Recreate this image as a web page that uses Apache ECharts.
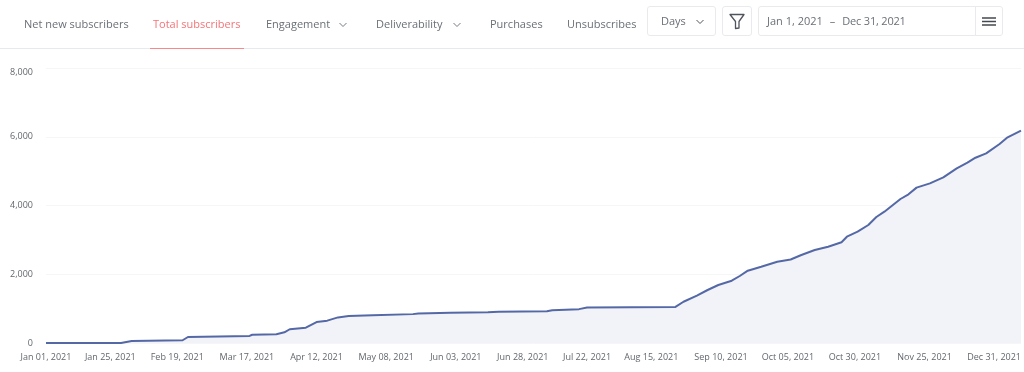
<!DOCTYPE html>
<html>
<head>
<meta charset="utf-8">
<script src="https://cdn.jsdelivr.net/npm/echarts@6/dist/echarts.min.js"></script>
<style>
  html, body { margin: 0; padding: 0; background: #fff; }
  body { position: relative; width: 1024px; height: 372px; overflow: hidden; font-family: "Open Sans", sans-serif; }
  #chart { position: absolute; left: 0; top: 0; width: 1024px; height: 372px; }
  .toolbar { position: absolute; left: 0; top: 0; width: 1024px; height: 49px; border-bottom: 1px solid #e7eaed; box-sizing: border-box; font-size: 11px; color: #6a7077; }
  .item { position: absolute; top: 15px; line-height: 17px; white-space: nowrap; }
  .item.active { color: #f47478; }
  .underline { position: absolute; left: 150px; top: 48px; width: 94px; height: 1px; background: #f7888b; }
  .box { position: absolute; top: 6px; height: 30px; border: 1px solid #e8eaed; border-radius: 3px; box-sizing: border-box; line-height: 28px; white-space: nowrap; }
  svg { position: absolute; }
</style>
</head>
<body>
<div id="chart"></div>
<div class="toolbar">
  <div class="item" style="left:24px">Net new subscribers</div>
  <div class="item active" style="left:153px">Total subscribers</div>
  <div class="item" style="left:266px">Engagement</div>
  <svg style="left:339px;top:22px" width="8" height="6"><path d="M0.5 1 L4 4.5 L7.5 1" fill="none" stroke="#757b82"/></svg>
  <div class="item" style="left:376px">Deliverability</div>
  <svg style="left:453px;top:22px" width="8" height="6"><path d="M0.5 1 L4 4.5 L7.5 1" fill="none" stroke="#757b82"/></svg>
  <div class="item" style="left:490px">Purchases</div>
  <div class="item" style="left:567px">Unsubscribes</div>
  <div class="underline"></div>
  <div class="box" style="left:647px;width:69px"><span style="margin-left:13px">Days</span></div>
  <svg style="left:696px;top:19px" width="8" height="6"><path d="M0.5 1 L4 4.5 L7.5 1" fill="none" stroke="#50555b"/></svg>
  <div class="box" style="left:722px;width:30px"></div>
  <svg style="left:729px;top:13px" width="16" height="17"><path d="M1 1.5 H15 L10 8.5 V15 L6.5 15.5 V8.5 Z" fill="none" stroke="#50555b" stroke-width="1.3" stroke-linejoin="round"/></svg>
  <div class="box" style="left:758px;width:245px"><span style="margin-left:8px">Jan 1, 2021</span><span style="margin-left:7px">–</span><span style="margin-left:7px;letter-spacing:-0.2px">Dec 31, 2021</span></div>
  <div style="position:absolute;left:975px;top:6px;width:1px;height:30px;background:#e8eaed"></div>
  <svg style="left:982px;top:17px" width="14" height="9"><path d="M0 1 H14 M0 4.5 H14 M0 8 H14" stroke="#444a50" stroke-width="1.4"/></svg>
</div>
<script>
// days since Jan 1 2021
const days = [0, 28, 32, 51, 53, 76, 77, 86, 89, 91, 97, 101, 105, 109, 113, 122, 137, 139, 151, 165, 169, 187, 189, 199, 202, 235, 238, 243, 247, 251, 256, 259, 262, 267, 273, 278, 282, 287, 292, 297, 299, 303, 307, 310, 313, 319, 322, 325, 330, 335, 340, 344, 347, 351, 356, 359, 364];
const totals = [0, 0, 60, 80, 175, 205, 240, 255, 310, 400, 445, 610, 650, 745, 785, 810, 840, 860, 880, 895, 910, 925, 955, 985, 1030, 1050, 1201, 1376, 1542, 1687, 1812, 1949, 2103, 2220, 2365, 2430, 2560, 2705, 2801, 2929, 3092, 3238, 3433, 3665, 3820, 4189, 4325, 4520, 4645, 4820, 5080, 5245, 5390, 5518, 5789, 5983, 6180];
const tickDays = [0, 24, 49, 75, 101, 127, 153, 178, 202, 226, 252, 277, 302, 328, 364];
const tickLabels = ['Jan 01, 2021', 'Jan 25, 2021', 'Feb 19, 2021', 'Mar 17, 2021', 'Apr 12, 2021', 'May 08, 2021', 'Jun 03, 2021', 'Jun 28, 2021', 'Jul 22, 2021', 'Aug 15, 2021', 'Sep 10, 2021', 'Oct 05, 2021', 'Oct 30, 2021', 'Nov 25, 2021', 'Dec 31, 2021'];

const myChart = echarts.init(document.getElementById('chart'), null, { renderer: 'canvas' });
myChart.setOption({
  animation: false,
  textStyle: { fontFamily: '"Open Sans", sans-serif' },
  grid: { left: 46, right: 0, top: 68, bottom: 29 },
  xAxis: {
    type: 'value',
    min: 0,
    max: 364,
    axisLine: { show: false },
    axisTick: { show: false },
    splitLine: { show: false },
    axisLabel: {
      customValues: tickDays,
      hideOverlap: false,
      alignMaxLabel: 'right',
      margin: 10,
      color: '#62676d',
      fontSize: 9,
      formatter: (v) => tickLabels[tickDays.indexOf(v)]
    }
  },
  yAxis: {
    type: 'value',
    min: 0,
    max: 8000,
    interval: 2000,
    axisLine: { show: false },
    axisTick: { show: false },
    splitLine: { lineStyle: { color: '#f6f6f7', width: 1 } },
    axisLabel: {
      margin: 13,
      color: '#62676d',
      fontSize: 9,
      verticalAlignMaxLabel: 'top',
      formatter: (v) => v.toLocaleString('en-US')
    }
  },
  series: [{
    type: 'line',
    data: days.map((d, i) => [d, totals[i]]),
    showSymbol: false,
    lineStyle: { color: '#5468a6', width: 2 },
    areaStyle: { color: '#f2f3f8', opacity: 1 }
  }]
});
</script>
</body>
</html>
